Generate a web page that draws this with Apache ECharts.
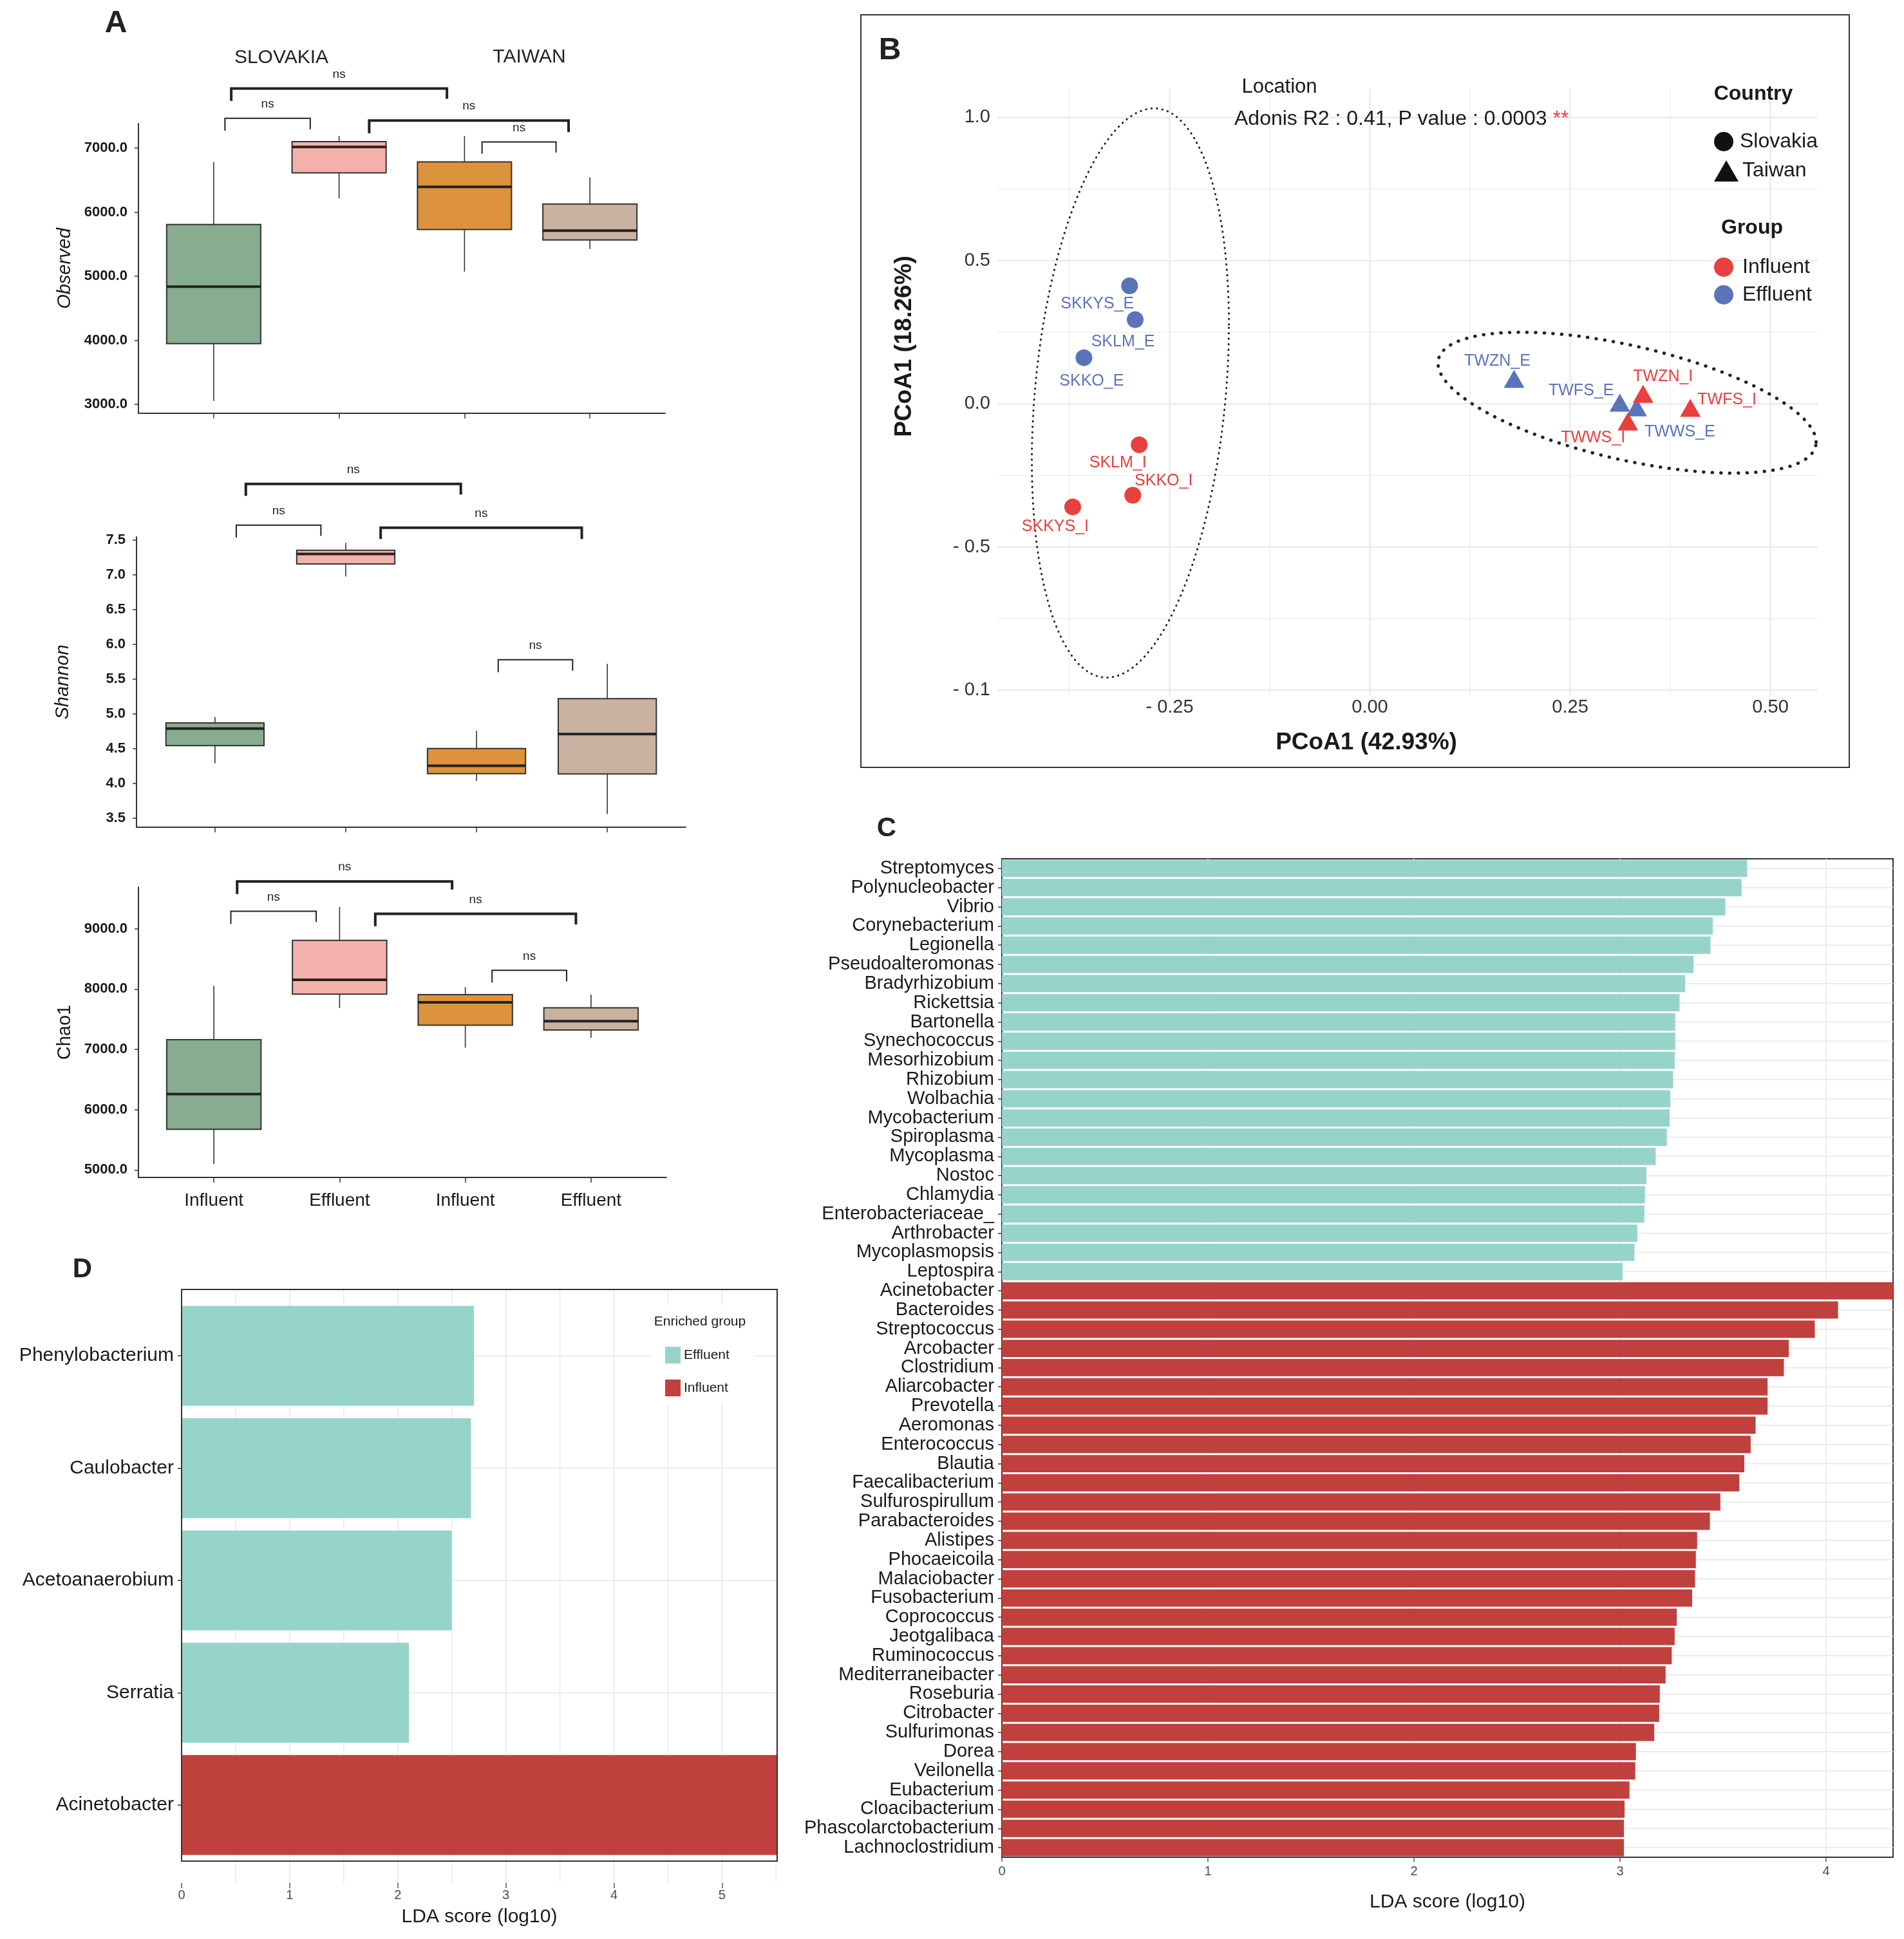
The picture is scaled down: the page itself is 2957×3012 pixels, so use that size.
<!DOCTYPE html>
<html>
<head>
<meta charset="utf-8">
<script src="https://cdn.jsdelivr.net/npm/echarts@6/dist/echarts.min.js"></script>
<style>
  html, body { margin: 0; padding: 0; background: #fff; }
  #chart { width: 2957px; height: 3012px; }
</style>
</head>
<body>
<div id="chart"></div>
<script>
// ---------- panel A : alpha diversity (min, Q1, median, Q3, max) ----------
var groupLabels = ['Influent', 'Effluent', 'Influent', 'Effluent'];
var observedStats = [
  [3053, 3947, 4838, 5807, 6781],
  [6215, 6614, 7018, 7101, 7189],
  [5070, 5728, 6395, 6785, 7189],
  [5425, 5566, 5711, 6127, 6544]
];
var shannonStats = [
  [4.287, 4.542, 4.789, 4.869, 4.956],
  [6.979, 7.158, 7.302, 7.356, 7.462],
  [4.032, 4.139, 4.253, 4.500, 4.755],
  [3.557, 4.135, 4.709, 5.219, 5.720]
];
var chao1Stats = [
  [5099, 5673, 6257, 7160, 8055],
  [7686, 7916, 8154, 8807, 9361],
  [7027, 7401, 7779, 7907, 8031],
  [7192, 7320, 7466, 7688, 7907]
];
var observedTicks = [3000, 4000, 5000, 6000, 7000];
var shannonTicks = [3.5, 4, 4.5, 5, 5.5, 6, 6.5, 7, 7.5];
var chao1Ticks = [5000, 6000, 7000, 8000, 9000];
// comparison brackets: [from, to, bar level, left leg end, right leg end]
var observedBrackets = [
  [1.09, 1.77, 7465, 7272, 7294],
  [1.14, 2.86, 7930, 7737, 7768],
  [2.24, 3.83, 7430, 7232, 7250],
  [3.14, 3.73, 7096, 6912, 6930]
];
var shannonBrackets = [
  [1.236, 2.88, 8.31, 8.139, 8.158],
  [1.163, 1.81, 7.717, 7.538, 7.561],
  [2.267, 3.805, 7.679, 7.519, 7.519],
  [3.166, 3.735, 5.781, 5.599, 5.622]
];
var chao1Brackets = [
  [1.185, 2.895, 9784, 9575, 9649],
  [1.135, 1.814, 9290, 9082, 9110],
  [2.284, 3.88, 9246, 9041, 9070],
  [3.213, 3.806, 8310, 8107, 8127]
];

// ---------- panel B : PCoA ----------
var sampleNames = ['SKKYS_E', 'SKLM_E', 'SKKO_E', 'SKLM_I', 'SKKO_I', 'SKKYS_I',
                   'TWZN_E', 'TWFS_E', 'TWWS_E', 'TWZN_I', 'TWFS_I', 'TWWS_I'];
var pcoaAxis1 = [-0.300, -0.293, -0.357, -0.288, -0.296, -0.371, 0.180, 0.312, 0.333, 0.341, 0.400, 0.322];
var pcoaAxis2 = [0.412, 0.294, 0.161, -0.143, -0.319, -0.360, 0.087, 0.004, -0.012, 0.035, -0.014, -0.062];
var sampleCountry = ['Slovakia', 'Slovakia', 'Slovakia', 'Slovakia', 'Slovakia', 'Slovakia',
                     'Taiwan', 'Taiwan', 'Taiwan', 'Taiwan', 'Taiwan', 'Taiwan'];
var sampleGroup = ['Effluent', 'Effluent', 'Effluent', 'Influent', 'Influent', 'Influent',
                   'Effluent', 'Effluent', 'Effluent', 'Influent', 'Influent', 'Influent'];
// confidence ellipses: centre x, centre y, half width, half height, correlation
var slovakiaEllipse = [-0.299, 0.038, 0.123, 0.994, 0.24];
var taiwanEllipse = [0.321, 0.004, 0.236, 0.246, -0.56];
var pcoaXTicks = [-0.25, 0, 0.25, 0.5];
var pcoaXTickLabels = ['- 0.25', '0.00', '0.25', '0.50'];
var pcoaYTicks = [-1, -0.5, 0, 0.5, 1];
var pcoaYTickLabels = ['- 0.1', '- 0.5', '0.0', '0.5', '1.0'];
var pcoaXGrid = [-0.375, -0.25, -0.125, 0, 0.125, 0.25, 0.375, 0.5];
var pcoaYGrid = [-1, -0.75, -0.5, -0.25, 0, 0.25, 0.5, 0.75, 1];

// ---------- panel C : LEfSe ----------
var ldaEffluentTaxa = ['Streptomyces', 'Polynucleobacter', 'Vibrio', 'Corynebacterium', 'Legionella',
  'Pseudoalteromonas', 'Bradyrhizobium', 'Rickettsia', 'Bartonella', 'Synechococcus', 'Mesorhizobium',
  'Rhizobium', 'Wolbachia', 'Mycobacterium', 'Spiroplasma', 'Mycoplasma', 'Nostoc', 'Chlamydia',
  'Enterobacteriaceae_', 'Arthrobacter', 'Mycoplasmopsis', 'Leptospira'];
var ldaEffluentScores = [3.617, 3.590, 3.511, 3.450, 3.439, 3.357, 3.316, 3.289, 3.268, 3.268, 3.265,
  3.258, 3.244, 3.241, 3.227, 3.173, 3.128, 3.121, 3.118, 3.084, 3.070, 3.012];
var ldaInfluentTaxa = ['Acinetobacter', 'Bacteroides', 'Streptococcus', 'Arcobacter', 'Clostridium',
  'Aliarcobacter', 'Prevotella', 'Aeromonas', 'Enterococcus', 'Blautia', 'Faecalibacterium',
  'Sulfurospirullum', 'Parabacteroides', 'Alistipes', 'Phocaeicoila', 'Malaciobacter', 'Fusobacterium',
  'Coprococcus', 'Jeotgalibaca', 'Ruminococcus', 'Mediterraneibacter', 'Roseburia', 'Citrobacter',
  'Sulfurimonas', 'Dorea', 'Veilonella', 'Eubacterium', 'Cloacibacterium', 'Phascolarctobacterium',
  'Lachnoclostridium'];
var ldaInfluentScores = [5.6, 4.058, 3.945, 3.819, 3.795, 3.716, 3.716, 3.658, 3.634, 3.603, 3.579,
  3.487, 3.436, 3.374, 3.368, 3.364, 3.350, 3.275, 3.265, 3.251, 3.221, 3.193, 3.190, 3.166, 3.077,
  3.074, 3.046, 3.022, 3.019, 3.019];
var ldaTicksC = [0, 1, 2, 3, 4];

// ---------- panel D ----------
var dTaxa = ['Phenylobacterium', 'Caulobacter', 'Acetoanaerobium', 'Serratia', 'Acinetobacter'];
var dScores = [2.705, 2.677, 2.500, 2.104, 5.6];
var dGroups = ['Effluent', 'Effluent', 'Effluent', 'Effluent', 'Influent'];
var ldaTicksD = [0, 1, 2, 3, 4, 5];
var ldaGridD = [0.5, 1, 1.5, 2, 2.5, 3, 3.5, 4, 4.5, 5, 5.5];

// ---------- styles / layout ----------
var FONT = '"Liberation Sans", Arial, Helvetica, sans-serif';
var INK = '#1a1a1a';
var boxColors = ['#87AC90', '#F4B1AB', '#DD923C', '#C9B29F'];
var TEAL = '#96D4CA';
var RED = '#C0403D';
var PT_RED = '#E8403E';
var PT_BLUE = '#5A74BA';
var GRIDC = '#ebebeb';
var D_FRAME = { x: 282, y: 2003, w: 925, h: 888, gridBottom: 2925 };
var labelOffsets = {
  SKKYS_E: [-50, 28], SKLM_E: [-19, 35], SKKO_E: [12, 36],
  SKLM_I: [-33, 28], SKKO_I: [48, -22], SKKYS_I: [-27, 31],
  TWZN_E: [-26, -27], TWFS_E: [-60, -18], TWWS_E: [67, 38],
  TWZN_I: [31, -27], TWFS_I: [57, -12], TWWS_I: [-54, 25]
};

var chart = echarts.init(document.getElementById('chart'), null, { renderer: 'canvas' });

function boxRender(params, api) {
  var i = api.value(0);
  var half = 0.375;
  var pMin = api.coord([i, api.value(1)]);
  var pQ1 = api.coord([i - half, api.value(2)]);
  var pMed = api.coord([i, api.value(3)]);
  var pQ3 = api.coord([i + half, api.value(4)]);
  var pMax = api.coord([i, api.value(5)]);
  return {
    type: 'group',
    children: [
      { type: 'line', shape: { x1: pMin[0], y1: pMin[1], x2: pMin[0], y2: pQ1[1] }, style: { stroke: '#333', lineWidth: 1.6 } },
      { type: 'line', shape: { x1: pMax[0], y1: pQ3[1], x2: pMax[0], y2: pMax[1] }, style: { stroke: '#333', lineWidth: 1.6 } },
      { type: 'rect', shape: { x: pQ1[0], y: pQ3[1], width: pQ3[0] - pQ1[0], height: pQ1[1] - pQ3[1] },
        style: { fill: boxColors[i - 1], stroke: '#333', lineWidth: 2 } },
      { type: 'line', shape: { x1: pQ1[0], y1: pMed[1], x2: pQ3[0], y2: pMed[1] }, style: { stroke: '#222', lineWidth: 4 } }
    ]
  };
}

function bracketRender(params, api) {
  var x1 = api.value(0), x2 = api.value(1), lvl = api.value(2);
  var a = api.coord([x1, api.value(3)]);
  var b = api.coord([x1, lvl]);
  var c = api.coord([x2, lvl]);
  var d = api.coord([x2, api.value(4)]);
  var thick = (x2 - x1) > 1;
  return {
    type: 'group',
    children: [
      { type: 'polyline', shape: { points: [a, b, c, d] }, style: { stroke: '#222', lineWidth: thick ? 4 : 2, fill: null } },
      { type: 'text', x: (b[0] + c[0]) / 2, y: b[1] - 22,
        style: { text: 'ns', fill: '#222', fontSize: 19, fontFamily: FONT, align: 'center', verticalAlign: 'middle',
                 textAlign: 'center', textVerticalAlign: 'middle' } }
    ]
  };
}

function vGridRender(params, api) {
  var cs = params.coordSys;
  var v = api.value(0);
  var x = api.coord([v, 0])[0];
  var major = Math.abs(v / 0.25 - Math.round(v / 0.25)) < 1e-6;
  return { type: 'line', shape: { x1: x, y1: cs.y, x2: x, y2: cs.y + cs.height }, style: { stroke: GRIDC, lineWidth: major ? 2.5 : 1.2 } };
}
function hGridRender(params, api) {
  var cs = params.coordSys;
  var v = api.value(1);
  var y = api.coord([0, v])[1];
  var major = Math.abs(v / 0.5 - Math.round(v / 0.5)) < 1e-6;
  return { type: 'line', shape: { x1: cs.x, y1: y, x2: cs.x + cs.width, y2: y }, style: { stroke: GRIDC, lineWidth: major ? 2.5 : 1.2 } };
}
function catGridRender(params, api) {
  var cs = params.coordSys;
  var y = api.coord([0, api.value(1)])[1];
  return { type: 'line', shape: { x1: cs.x, y1: y, x2: cs.x + cs.width, y2: y }, style: { stroke: GRIDC, lineWidth: 2 } };
}
// vertical grid of panel D reaches from the frame top down to the tick marks
function dGridRender(params, api) {
  var v = api.value(0);
  var x = api.coord([v, 0])[0];
  var major = Math.abs(v - Math.round(v)) < 1e-6;
  return { type: 'line', shape: { x1: x, y1: D_FRAME.y, x2: x, y2: D_FRAME.gridBottom }, style: { stroke: GRIDC, lineWidth: major ? 2 : 1.4 } };
}

function ellipsePath(e) {
  var pts = [];
  var s = Math.sqrt(1 - e[4] * e[4]);
  for (var t = 0; t <= 180; t++) {
    var th = 2 * Math.PI * t / 180;
    pts.push([e[0] + e[2] * Math.cos(th), e[1] + e[3] * (e[4] * Math.cos(th) + s * Math.sin(th))]);
  }
  return pts;
}

function pcoaSeries(country, group, symbol, size, color) {
  var data = [];
  sampleNames.forEach(function (nm, i) {
    if (sampleCountry[i] === country && sampleGroup[i] === group) {
      data.push({ name: nm, value: [pcoaAxis1[i], pcoaAxis2[i]], label: { offset: labelOffsets[nm] } });
    }
  });
  return {
    type: 'scatter', name: country + ' ' + group, xAxisIndex: 3, yAxisIndex: 3,
    symbol: symbol, symbolSize: size, itemStyle: { color: color, opacity: 1 }, z: 5,
    label: { show: true, position: 'inside', formatter: '{b}', color: color, fontSize: 25, fontFamily: FONT },
    emphasis: { disabled: true }, data: data
  };
}

function boxXAxis(gi, showLabels) {
  return {
    type: 'value', gridIndex: gi, min: 0.4, max: 4.6,
    axisLine: { show: true, onZero: false, lineStyle: { color: '#333', width: 2 } },
    axisTick: { show: true, customValues: [1, 2, 3, 4], length: 8, lineStyle: { color: '#333', width: 1.5 } },
    axisLabel: { show: showLabels, customValues: [1, 2, 3, 4], margin: 22, fontSize: 28, color: INK, fontFamily: FONT,
      formatter: function (v) { return groupLabels[Math.round(v) - 1]; } },
    splitLine: { show: false }
  };
}
function boxYAxis(gi, min, max, ticks, name, italic) {
  return {
    type: 'value', gridIndex: gi, min: min, max: max,
    name: name, nameLocation: 'middle', nameGap: 100, nameRotate: 90,
    nameTextStyle: { fontSize: 29, fontStyle: italic ? 'italic' : 'normal', color: INK, fontFamily: FONT },
    axisLine: { show: true, onZero: false, lineStyle: { color: '#333', width: 2 } },
    axisTick: { show: true, customValues: ticks, length: 6, lineStyle: { color: '#333', width: 1.5 } },
    axisLabel: { customValues: ticks, margin: 17, fontSize: 22, fontWeight: 'bold', color: INK, fontFamily: FONT,
      formatter: function (v) { return v.toFixed(1); } },
    splitLine: { show: false }
  };
}
function pick(ticks, labels) {
  return function (v) {
    var best = 0;
    for (var i = 1; i < ticks.length; i++) if (Math.abs(ticks[i] - v) < Math.abs(ticks[best] - v)) best = i;
    return labels[best];
  };
}
function taxaYAxis(gi, cats, fontSize) {
  return {
    type: 'category', gridIndex: gi, data: cats, inverse: true,
    axisLine: { show: true, lineStyle: { color: '#333', width: 2 } },
    axisTick: { show: true, alignWithLabel: true, length: 6, lineStyle: { color: '#333', width: 1.5 } },
    axisLabel: { interval: 0, margin: 12, fontSize: fontSize, color: INK, fontFamily: FONT },
    splitLine: { show: false }
  };
}

var cTaxa = ldaEffluentTaxa.concat(ldaInfluentTaxa);
var cEff = ldaEffluentScores.concat(ldaInfluentTaxa.map(function () { return '-'; }));
var cInf = ldaEffluentTaxa.map(function () { return '-'; }).concat(ldaInfluentScores);
var dEff = dScores.map(function (v, i) { return dGroups[i] === 'Effluent' ? v : '-'; });
var dInf = dScores.map(function (v, i) { return dGroups[i] === 'Influent' ? v : '-'; });

function statRows(stats) { return stats.map(function (s, i) { return [i + 1].concat(s); }); }

var txt = function (text, x, y, size, opts) {
  opts = opts || {};
  return {
    type: 'text', x: x, y: y, z: opts.z || 10, rotation: opts.rotation || 0,
    style: {
      text: text, fill: opts.color || INK, fontSize: size, fontFamily: FONT,
      fontWeight: opts.bold ? 'bold' : 'normal', fontStyle: opts.italic ? 'italic' : 'normal',
      align: opts.align || 'center', verticalAlign: 'middle',
      textAlign: opts.align || 'center', textVerticalAlign: 'middle', rich: opts.rich
    }
  };
};

var option = {
  backgroundColor: '#fff',
  animation: false,
  textStyle: { fontFamily: FONT },
  grid: [
    { left: 215, top: 192, width: 818, height: 450, containLabel: false, outerBoundsMode: 'none' },
    { left: 212, top: 834, width: 853, height: 451, containLabel: false, outerBoundsMode: 'none' },
    { left: 215, top: 1378, width: 820, height: 451, containLabel: false, outerBoundsMode: 'none' },
    { left: 1549, top: 138, width: 1274, height: 943, containLabel: false, outerBoundsMode: 'none' },
    { left: 1556, top: 1334, width: 1384, height: 1551, containLabel: false, outerBoundsMode: 'none',
      show: true, borderColor: '#333', borderWidth: 2, backgroundColor: 'transparent' },
    { left: 282, top: 2019, width: 925, height: 872, containLabel: false, outerBoundsMode: 'none' }
  ],
  xAxis: [
    boxXAxis(0, false),
    boxXAxis(1, false),
    boxXAxis(2, true),
    { type: 'value', gridIndex: 3, min: -0.465, max: 0.559,
      axisLine: { show: false }, axisTick: { show: false }, splitLine: { show: false },
      axisLabel: { customValues: pcoaXTicks, formatter: pick(pcoaXTicks, pcoaXTickLabels), margin: 3,
        fontSize: 29, color: '#333', fontFamily: FONT } },
    { type: 'value', gridIndex: 4, min: 0, max: 4.325, interval: 0.5,
      name: 'LDA score (log10)', nameLocation: 'middle', nameGap: 70,
      nameTextStyle: { fontSize: 30, color: INK, fontFamily: FONT, verticalAlign: 'middle' },
      axisLine: { show: true, onZero: false, lineStyle: { color: '#333', width: 2 } },
      axisTick: { show: true, customValues: ldaTicksC, length: 7, lineStyle: { color: '#555', width: 1.5 } },
      axisLabel: { customValues: ldaTicksC, margin: 12, fontSize: 20, color: '#4d4d4d', fontFamily: FONT },
      splitLine: { show: true, lineStyle: { color: GRIDC, width: 1.6 } } },
    { type: 'value', gridIndex: 5, min: 0, max: 5.51, offset: 34,
      name: 'LDA score (log10)', nameLocation: 'middle', nameGap: 53,
      nameTextStyle: { fontSize: 30, color: INK, fontFamily: FONT, verticalAlign: 'middle' },
      axisLine: { show: false },
      axisTick: { show: true, customValues: ldaTicksD, length: 8, lineStyle: { color: '#555', width: 1.5 } },
      axisLabel: { customValues: ldaTicksD, margin: 9, fontSize: 20, color: '#4d4d4d', fontFamily: FONT },
      splitLine: { show: false } }
  ],
  yAxis: [
    boxYAxis(0, 2860, 7382, observedTicks, 'Observed', true),
    boxYAxis(1, 3.368, 7.548, shannonTicks, 'Shannon', true),
    boxYAxis(2, 4876, 9690, chao1Ticks, 'Chao1', false),
    { type: 'value', gridIndex: 3, min: -1.02, max: 1.1,
      axisLine: { show: false }, axisTick: { show: false }, splitLine: { show: false },
      axisLabel: { customValues: pcoaYTicks, formatter: pick(pcoaYTicks, pcoaYTickLabels), margin: 11,
        fontSize: 29, color: '#333', fontFamily: FONT } },
    taxaYAxis(4, cTaxa, 29),
    taxaYAxis(5, dTaxa, 30)
  ],
  legend: {
    show: true, orient: 'vertical', left: 1033, top: 2092, padding: 0, z: 20,
    itemWidth: 24, itemHeight: 26, itemGap: 25, icon: 'rect', selectedMode: false,
    data: ['Effluent', 'Influent'],
    textStyle: { fontSize: 21, color: INK, fontFamily: FONT }
  },
  series: [
    { type: 'custom', xAxisIndex: 0, yAxisIndex: 0, renderItem: boxRender, data: statRows(observedStats), z: 3 },
    { type: 'custom', xAxisIndex: 1, yAxisIndex: 1, renderItem: boxRender, data: statRows(shannonStats), z: 3 },
    { type: 'custom', xAxisIndex: 2, yAxisIndex: 2, renderItem: boxRender, data: statRows(chao1Stats), z: 3 },
    { type: 'custom', xAxisIndex: 0, yAxisIndex: 0, renderItem: bracketRender, data: observedBrackets, clip: false, z: 4 },
    { type: 'custom', xAxisIndex: 1, yAxisIndex: 1, renderItem: bracketRender, data: shannonBrackets, clip: false, z: 4 },
    { type: 'custom', xAxisIndex: 2, yAxisIndex: 2, renderItem: bracketRender, data: chao1Brackets, clip: false, z: 4 },

    { type: 'custom', xAxisIndex: 3, yAxisIndex: 3, renderItem: vGridRender, z: 1, silent: true,
      data: pcoaXGrid.map(function (v) { return [v, 0]; }) },
    { type: 'custom', xAxisIndex: 3, yAxisIndex: 3, renderItem: hGridRender, z: 1, silent: true,
      data: pcoaYGrid.map(function (v) { return [0, v]; }) },
    { type: 'line', xAxisIndex: 3, yAxisIndex: 3, data: ellipsePath(slovakiaEllipse), showSymbol: false, symbol: 'none',
      lineStyle: { color: '#222', width: 3, type: [0.5, 8], cap: 'round' }, z: 3, silent: true },
    { type: 'line', xAxisIndex: 3, yAxisIndex: 3, data: ellipsePath(taiwanEllipse), showSymbol: false, symbol: 'none',
      lineStyle: { color: '#222', width: 5, type: [0.5, 13], cap: 'round' }, z: 3, silent: true },
    pcoaSeries('Slovakia', 'Effluent', 'circle', 26, PT_BLUE),
    pcoaSeries('Slovakia', 'Influent', 'circle', 26, PT_RED),
    pcoaSeries('Taiwan', 'Effluent', 'triangle', [32, 28], PT_BLUE),
    pcoaSeries('Taiwan', 'Influent', 'triangle', [32, 28], PT_RED),

    { type: 'custom', xAxisIndex: 4, yAxisIndex: 4, renderItem: catGridRender, z: 1, silent: true,
      data: cTaxa.map(function (t) { return [0, t]; }) },
    { type: 'bar', name: 'Effluent', xAxisIndex: 4, yAxisIndex: 4, stack: 'c', barWidth: '90%',
      itemStyle: { color: TEAL }, data: cEff, z: 2 },
    { type: 'bar', name: 'Influent', xAxisIndex: 4, yAxisIndex: 4, stack: 'c', barWidth: '90%',
      itemStyle: { color: RED }, data: cInf, z: 2 },

    { type: 'custom', xAxisIndex: 5, yAxisIndex: 5, renderItem: dGridRender, z: 1, silent: true, clip: false,
      data: ldaGridD.map(function (v) { return [v, dTaxa[0]]; }) },
    { type: 'custom', xAxisIndex: 5, yAxisIndex: 5, renderItem: catGridRender, z: 1, silent: true,
      data: dTaxa.map(function (t) { return [0, t]; }) },
    { type: 'bar', name: 'Effluent', xAxisIndex: 5, yAxisIndex: 5, stack: 'd', barWidth: '89%',
      itemStyle: { color: TEAL }, data: dEff, z: 2 },
    { type: 'bar', name: 'Influent', xAxisIndex: 5, yAxisIndex: 5, stack: 'd', barWidth: '89%',
      itemStyle: { color: RED }, data: dInf, z: 2 }
  ],
  graphic: { elements: [
    txt('A', 180, 37, 48, { bold: true, color: '#222' }),
    txt('SLOVAKIA', 437, 90, 30, { color: '#222' }),
    txt('TAIWAN', 822, 89, 30, { color: '#222' }),

    { type: 'rect', shape: { x: 1337, y: 23, width: 1535, height: 1169 }, style: { fill: null, stroke: '#333', lineWidth: 2 }, z: 1 },
    txt('B', 1382, 79, 48, { bold: true, color: '#222' }),
    txt('Location', 1987, 135, 31),
    txt('Adonis R2 : 0.41, P value : 0.0003 {r|**}', 1917, 185, 32, { align: 'left',
      rich: { r: { fill: PT_RED, fontSize: 32, fontFamily: FONT } } }),
    txt('PCoA1 (18.26%)', 1405, 538, 37, { bold: true, rotation: Math.PI / 2 }),
    txt('PCoA1 (42.93%)', 2122, 1154, 37, { bold: true }),
    txt('Country', 2723, 146, 32, { bold: true }),
    { type: 'circle', shape: { cx: 2677, cy: 220, r: 15 }, style: { fill: '#111' }, z: 10 },
    txt('Slovakia', 2702, 220, 32, { align: 'left' }),
    { type: 'polygon', shape: { points: [[2662, 282], [2700, 282], [2681, 249]] }, style: { fill: '#111' }, z: 10 },
    txt('Taiwan', 2706, 265, 32, { align: 'left' }),
    txt('Group', 2721, 354, 32, { bold: true }),
    { type: 'circle', shape: { cx: 2677, cy: 415, r: 15 }, style: { fill: PT_RED }, z: 10 },
    txt('Influent', 2706, 415, 32, { align: 'left' }),
    { type: 'circle', shape: { cx: 2677, cy: 458, r: 15 }, style: { fill: PT_BLUE }, z: 10 },
    txt('Effluent', 2706, 458, 32, { align: 'left' }),

    txt('C', 1377, 1287, 42, { bold: true, color: '#222' }),
    txt('D', 128, 1972, 42, { bold: true, color: '#222' }),
    { type: 'rect', shape: { x: D_FRAME.x, y: D_FRAME.y, width: D_FRAME.w, height: D_FRAME.h },
      style: { fill: null, stroke: '#333', lineWidth: 2 }, z: 10 },
    { type: 'rect', shape: { x: 1011, y: 2028, width: 160, height: 152 }, style: { fill: '#fff' }, z: 10 },
    txt('Enriched group', 1087, 2053, 21, { z: 11 })
  ] }
};

chart.setOption(option);
</script>
</body>
</html>
